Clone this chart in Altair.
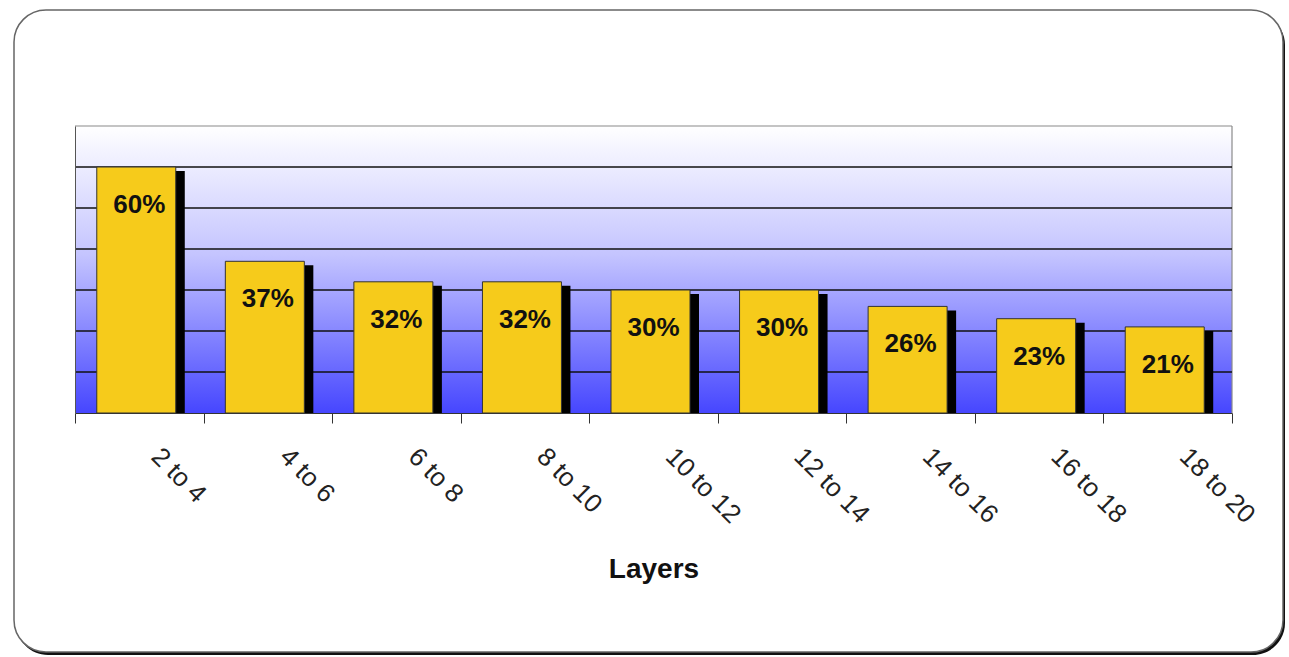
import altair as alt
import pandas as pd

# ---- data ----
categories = ["2 to 4", "4 to 6", "6 to 8", "8 to 10", "10 to 12",
              "12 to 14", "14 to 16", "16 to 18", "18 to 20"]
values = [60, 37, 32, 32, 30, 30, 26, 23, 21]
labels = [f"{v}%" for v in values]
grid_values = [10, 20, 30, 40, 50, 60]

df = pd.DataFrame({"layer": categories, "pct": values, "label": labels})
grid_df = pd.DataFrame({"g": grid_values})
one = pd.DataFrame({"a": [0]})

W, H = 1157, 287
FONT = "Liberation Sans"
BAR_W = 79

xscale = alt.Scale(domain=categories, paddingInner=0, paddingOuter=0)
yscale = alt.Scale(domain=[0, 70], nice=False, zero=True)

x_axis = alt.Axis(
    title="Layers", labelAngle=45, labelAlign="left", labelBaseline="top",
    labelFontSize=26, labelFont=FONT, labelColor="#222222",
    labelOffset=25, labelPadding=20, tickSize=10, tickColor="#333333",
    tickBand="extent", domainColor="#333333", grid=False,
    titleFont=FONT, titleFontSize=28, titleFontWeight="bold",
    titleColor="#111111", titleBaseline="alphabetic", titleY=164, zindex=1,
)
y_axis = alt.Axis(labels=False, ticks=False, grid=False, title=None,
                  domainColor="#555555", zindex=1)

X = alt.X("layer:N", scale=xscale, sort=categories, axis=x_axis)
Y = alt.Y("pct:Q", scale=yscale, axis=y_axis)

# outer rounded frame (decoration)
frame_shadow = alt.Chart(one).mark_rect(color="#111111", cornerRadius=32).encode(
    x=alt.value(-59), x2=alt.value(1210), y=alt.value(-113), y2=alt.value(529))
frame = alt.Chart(one).mark_rect(fill="white", stroke="#666666", strokeWidth=1.5,
                                 cornerRadius=32).encode(
    x=alt.value(-61), x2=alt.value(1208), y=alt.value(-116), y2=alt.value(526))

# gradient plot background
gradient = alt.Chart(one).mark_rect(
    color=alt.LinearGradient(
        gradient="linear",
        stops=[alt.GradientStop(color="#ffffff", offset=0),
               alt.GradientStop(color="#c4c4ff", offset=0.45),
               alt.GradientStop(color="#4646ff", offset=1)],
        x1=0, x2=0, y1=0, y2=1)
).encode(x=alt.value(0), x2=alt.value(W), y=alt.value(0), y2=alt.value(H))

# top and right plot borders
top_border = alt.Chart(one).mark_rule(color="#8a8a8a", strokeWidth=1.2).encode(
    x=alt.value(0), x2=alt.value(W), y=alt.value(0))
right_border = alt.Chart(one).mark_rule(color="#8a8a8a", strokeWidth=1.2).encode(
    x=alt.value(W), y=alt.value(0), y2=alt.value(H))

grid = alt.Chart(grid_df).mark_rule(color="#111111", strokeWidth=1.3).encode(
    y=alt.Y("g:Q", scale=yscale, axis=y_axis))

shadow = alt.Chart(df).mark_bar(color="black", width=BAR_W, xOffset=6, yOffset=4,
                                clip=True).encode(x=X, y=Y)

bars = alt.Chart(df).mark_bar(color="#F6CB1B", stroke="#333333", strokeWidth=1,
                              width=BAR_W, xOffset=-3).encode(x=X, y=Y)

text = alt.Chart(df).mark_text(fontSize=26, fontWeight="bold", font=FONT, dy=38,
                               baseline="middle", color="#111111").encode(
    x=X, y=Y, text="label:N")

chart = alt.layer(frame_shadow, frame, gradient, top_border, right_border,
                  grid, shadow, bars, text).properties(
    width=W, height=H,
    autosize=alt.AutoSizeParams(type="none"),
    padding={"left": 75, "top": 126, "right": 57, "bottom": 244},
    background="white",
).configure_view(strokeWidth=0)

chart.save("out.html", embed_options={"renderer": "svg", "actions": False})
